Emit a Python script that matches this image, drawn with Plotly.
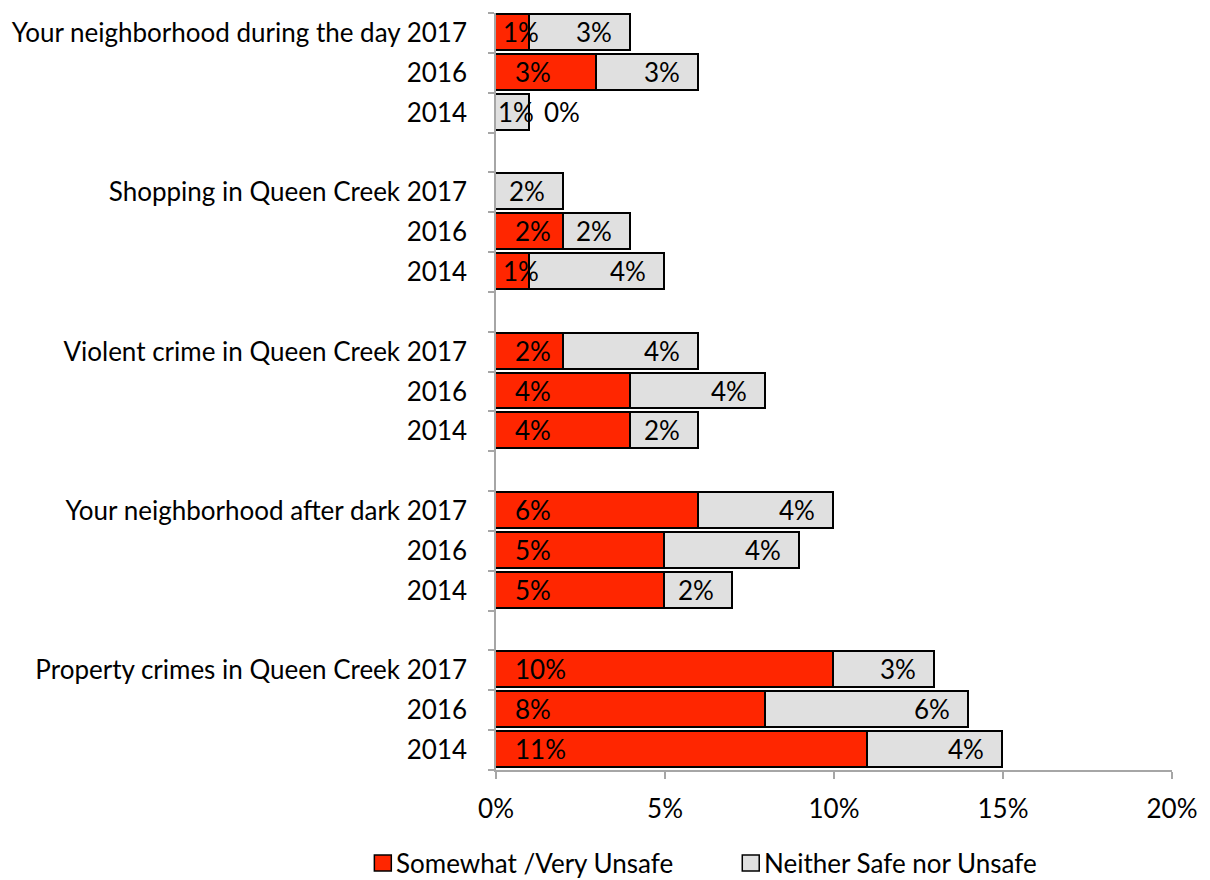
import plotly.graph_objects as go

# Survey items (top to bottom) and the survey years shown for each
categories = [
    "Your neighborhood during the day",
    "Shopping in Queen Creek",
    "Violent crime in Queen Creek",
    "Your neighborhood after dark",
    "Property crimes in Queen Creek",
]
years = ["2017", "2016", "2014"]

# Percent answering "Somewhat /Very Unsafe", per category, per year (2017, 2016, 2014)
unsafe = [
    [1, 3, 0],
    [0, 2, 1],
    [2, 4, 4],
    [6, 5, 5],
    [10, 8, 11],
]
# Whether the unsafe value carries a data label
unsafe_labelled = [
    [True, True, True],
    [False, True, True],
    [True, True, True],
    [True, True, True],
    [True, True, True],
]
# Percent answering "Neither Safe nor Unsafe"
neither = [
    [3, 3, 1],
    [2, 2, 4],
    [4, 4, 2],
    [4, 4, 2],
    [3, 6, 4],
]

x_ticks = [0, 5, 10, 15, 20]
x_ticktext = ["0%", "5%", "10%", "15%", "20%"]

RED = "#FF2600"
GREY = "#E0E0E0"
AXIS = "#A6A6A6"
FONT = "Lato"
FS = 26

# One slot per bar, plus an empty slot between groups
pos, red_vals, grey_vals, red_lab_on, ticktext = [], [], [], [], []
for g, cat in enumerate(categories):
    for k, yr in enumerate(years):
        pos.append(g * 4 + k)
        red_vals.append(unsafe[g][k])
        grey_vals.append(neither[g][k])
        red_lab_on.append(unsafe_labelled[g][k])
        ticktext.append(f"{cat} {yr}" if k == 0 else yr)
n_slots = len(categories) * 4 - 1

fig = go.Figure()
fig.add_trace(go.Bar(
    y=pos, x=red_vals, orientation="h", width=0.9, name="Somewhat /Very Unsafe",
    marker=dict(color=RED, line=dict(color="black", width=1.6)),
    hoverinfo="skip",
))
fig.add_trace(go.Bar(
    y=pos, x=grey_vals, orientation="h", width=0.9, name="Neither Safe nor Unsafe",
    marker=dict(color=GREY, line=dict(color="black", width=1.6)),
    hoverinfo="skip",
))

annotations = []
lab_font = dict(family=FONT, size=FS, color="black")
for p, r, gv, on in zip(pos, red_vals, grey_vals, red_lab_on):
    # unsafe label: at the base of the red bar
    if on:
        if r == 0:
            annotations.append(dict(x=r + gv, y=p, text=f"{r}%", showarrow=False,
                                    xanchor="left", xshift=12, yshift=1, font=lab_font))
        else:
            annotations.append(dict(x=0, y=p, text=f"{r}%", showarrow=False,
                                    xanchor="left", xshift=17 if r >= 2 else 5,
                                    yshift=1, font=lab_font))
    # neither label: near the end of the grey bar
    if gv >= 2:
        annotations.append(dict(x=r + gv, y=p, text=f"{gv}%", showarrow=False,
                                xanchor="right", xshift=-17, yshift=1, font=lab_font))
    else:
        annotations.append(dict(x=r + gv / 2, y=p, text=f"{gv}%", showarrow=False,
                                xanchor="center", xshift=3, yshift=1, font=lab_font))

# Legend drawn as swatches plus labels below the plot
plot_l, plot_r, plot_t, plot_b = 494, 1172, 13, 770
W, H = plot_r - plot_l, plot_b - plot_t

def px_x(v):
    return (v - plot_l) / W

def px_y(v):
    return (plot_b - v) / H

shapes = []
legend_items = [("Somewhat /Very Unsafe", RED, 372), ("Neither Safe nor Unsafe", GREY, 741)]
for text, col, x0 in legend_items:
    shapes.append(dict(type="rect", xref="paper", yref="paper",
                       x0=px_x(x0), x1=px_x(x0 + 17), y0=px_y(871), y1=px_y(855),
                       fillcolor=col, line=dict(color="black", width=1.5)))
    annotations.append(dict(xref="paper", yref="paper", x=px_x(x0 + 20), y=px_y(863),
                            text=text, showarrow=False, xanchor="left", yanchor="middle",
                            font=lab_font))

fig.update_layout(
    barmode="stack",
    width=1210, height=880,
    margin=dict(l=plot_l, r=1210 - plot_r, t=plot_t, b=880 - plot_b),
    paper_bgcolor="white", plot_bgcolor="white",
    showlegend=False,
    bargap=0,
    font=dict(family=FONT, size=FS, color="black"),
    annotations=annotations,
    shapes=shapes,
    xaxis=dict(
        range=[0, 20], tickvals=x_ticks, ticktext=x_ticktext,
        showgrid=False, zeroline=False,
        showline=True, linecolor=AXIS, linewidth=1.5,
        ticks="outside", ticklen=7, tickcolor=AXIS, tickwidth=1.5,
        ticklabelstandoff=8,
        tickfont=dict(family=FONT, size=FS, color="black"),
    ),
    yaxis=dict(
        range=[n_slots - 0.5, -0.5], tickvals=pos, ticktext=ticktext,
        showgrid=False, zeroline=False,
        showline=True, linecolor=AXIS, linewidth=1.5,
        ticks="", ticklabelstandoff=22,
        tickfont=dict(family=FONT, size=FS, color="black"),
        minor=dict(tickmode="linear", tick0=-0.5, dtick=1, ticks="outside",
                   ticklen=6, tickcolor=AXIS, tickwidth=1.5, showgrid=False),
    ),
)

fig.write_html("out.html")
